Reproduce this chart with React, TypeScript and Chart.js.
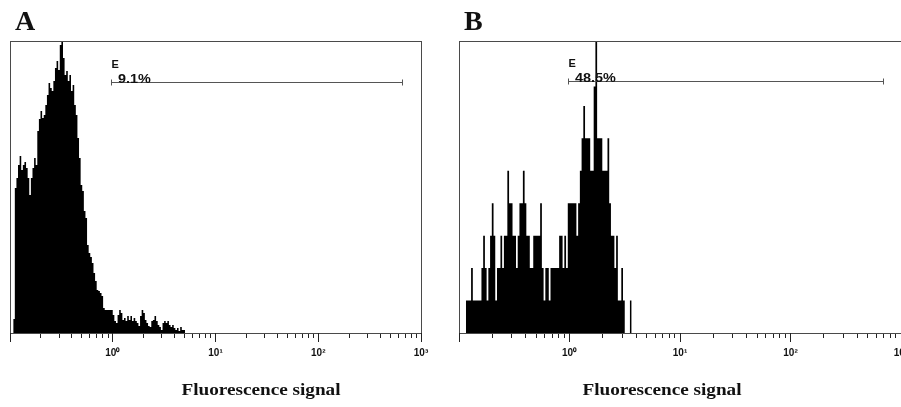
import React, { useEffect, useRef } from "react";
import { Chart, registerables } from "chart.js";

Chart.register(...registerables);

// ---- axis definition (log scale, 64 channels per decade from 10^-1) ----
const CHANNELS_PER_DECADE = 64;
const X_MIN = 0.1;
const X_MAX = 1000;
const majorTicks = [0.1, 1, 10, 100, 1000];
const majorTickLabels = ["", "10⁰", "10¹", "10²", "10³"];
const minorMultipliers = [2, 3, 4, 5, 6, 7, 8, 9];
const axisTitle = "Fluorescence signal";

// ---- panel A data ----
const startChannelA = 2;
const countsA = [
  14, 145, 155, 168, 177, 163, 168, 171, 165, 155,
  138, 155, 165, 175, 168, 202, 214, 222, 215, 218,
  228, 238, 250, 245, 242, 252, 265, 272, 263, 288,
  292, 275, 258, 262, 252, 258, 242, 248, 228, 218,
  195, 175, 148, 142, 122, 115, 88, 80, 76, 70,
  60, 52, 43, 42, 40, 37, 25, 23, 23, 23,
  23, 23, 18, 12, 10, 18, 23, 20, 13, 15,
  12, 17, 13, 17, 12, 15, 12, 10, 7, 17,
  23, 20, 13, 10, 7, 6, 12, 13, 17, 12,
  8, 6, 3, 10, 12, 10, 12, 8, 6, 8,
  5, 3, 5, 2, 6, 3, 3,
];
const yMaxA = 292;
const gateA = [0.97, 655];
const gateLevelA = 251;
const gateNameA = "E";
const gateLabelA = "9.1%";

// ---- panel B data ----
const startChannelB = 4;
const countsB = [
  1, 1, 1, 2, 1, 1, 1, 1, 1, 2,
  3, 2, 1, 2, 3, 4, 3, 1, 2, 2,
  3, 2, 3, 3, 5, 4, 4, 3, 3, 2,
  3, 4, 4, 5, 4, 3, 3, 2, 2, 3,
  3, 3, 3, 4, 2, 1, 2, 2, 1, 2,
  2, 2, 2, 2, 3, 3, 2, 3, 2, 4,
  4, 4, 4, 4, 3, 4, 5, 6, 7, 6,
  6, 6, 5, 5, 7.6, 10, 6, 6, 6, 5,
  5, 5, 6, 4, 3, 3, 2, 3, 1, 1,
  2, 1, 0, 0, 0, 1,
];
const yMaxB = 9;
const gateB = [0.98, 689];
const gateLevelB = 7.74;
const gateNameB = "E";
const gateLabelB = "48.5%";

// ---- layout / style per panel ----
const panelA = {
  letter: "A", left: 0, width: 450, padLeft: 10, padRight: 29, titleX: 261,
  startChannel: startChannelA, counts: countsA, yMax: yMaxA,
  gate: gateA, gateLevel: gateLevelA, gateName: gateNameA, gateLabel: gateLabelA,
};
const panelB = {
  letter: "B", left: 450, width: 470, padLeft: 7, padRight: 19, titleX: 212,
  startChannel: startChannelB, counts: countsB, yMax: yMaxB,
  gate: gateB, gateLevel: gateLevelB, gateName: gateNameB, gateLabel: gateLabelB,
};

const FRAME_COLOR = "#4a4a4a";
const TICK_COLOR = "#222";
const SANS = '"Liberation Sans", Arial, sans-serif';
const SERIF = '"Liberation Serif", "Times New Roman", serif';

function channelValue(ch: number) {
  return Math.pow(10, ch / CHANNELS_PER_DECADE - 1);
}

function isMajor(v: number) {
  return majorTicks.findIndex((m) => Math.abs(Math.log10(v) - Math.log10(m)) < 1e-6);
}

function allTickValues() {
  const vals: number[] = [];
  majorTicks.forEach((m, i) => {
    vals.push(m);
    if (i < majorTicks.length - 1) minorMultipliers.forEach((k) => vals.push(m * k));
  });
  return vals;
}

function align(px: number) {
  return Math.round(px - 0.5) + 0.5;
}

function stretchedText(ctx: CanvasRenderingContext2D, text: string, x: number, y: number, font: string, textAlign: CanvasTextAlign, sx: number) {
  ctx.save();
  ctx.font = font;
  ctx.textAlign = textAlign;
  ctx.textBaseline = "alphabetic";
  ctx.fillStyle = "#111";
  ctx.translate(x, y);
  ctx.scale(sx, 1);
  ctx.fillText(text, 0, 0);
  ctx.restore();
}

function Histogram({ cfg }: { cfg: any }) {
  const ref = useRef<HTMLCanvasElement>(null);
  useEffect(() => {
    const canvas = ref.current;
    if (!canvas) return;
    const points = cfg.counts.map((c: number, i: number) => ({ x: channelValue(cfg.startChannel + i), y: c }));
    points.push({ x: channelValue(cfg.startChannel + cfg.counts.length), y: 0 });
    const tickValues = allTickValues();

    const decor = {
      id: "decor",
      afterDraw(chart: any) {
        const { ctx, chartArea } = chart;
        const xs = chart.scales.x;
        const ys = chart.scales.y;
        ctx.save();
        // frame
        ctx.strokeStyle = FRAME_COLOR;
        ctx.lineWidth = 1;
        const l = align(chartArea.left), t = align(chartArea.top), r = align(chartArea.right), b = align(chartArea.bottom);
        ctx.strokeRect(l, t, r - l, b - t);
        // longer major ticks
        ctx.strokeStyle = TICK_COLOR;
        ctx.beginPath();
        majorTicks.forEach((m) => {
          const px = align(xs.getPixelForValue(m));
          ctx.moveTo(px, Math.round(chartArea.bottom));
          ctx.lineTo(px, Math.round(chartArea.bottom) + 9);
        });
        ctx.stroke();
        // gate
        const g0 = xs.getPixelForValue(cfg.gate[0]);
        const g1 = xs.getPixelForValue(cfg.gate[1]);
        const gy = align(ys.getPixelForValue(cfg.gateLevel));
        ctx.strokeStyle = "#555";
        ctx.beginPath();
        ctx.moveTo(align(g0), gy);
        ctx.lineTo(align(g1), gy);
        ctx.moveTo(align(g0), gy - 3);
        ctx.lineTo(align(g0), gy + 3);
        ctx.moveTo(align(g1), gy - 3);
        ctx.lineTo(align(g1), gy + 3);
        ctx.stroke();
        ctx.restore();
        stretchedText(ctx, cfg.gateName, g0, gy - 15, `bold 11px ${SANS}`, "left", 1);
        stretchedText(ctx, cfg.gateLabel, g0 + 6.5, gy, `bold 12px ${SANS}`, "left", 1.2);
        // panel letter
        stretchedText(ctx, cfg.letter, chartArea.left + 5, chartArea.top - 11.5, `bold 28px ${SERIF}`, "left", 1);
        // axis title
        stretchedText(ctx, axisTitle, cfg.titleX, 394.5, `bold 16px ${SERIF}`, "center", 1.2);
      },
    };

    const chart = new Chart(canvas, {
      type: "line",
      data: {
        datasets: [
          {
            data: points,
            stepped: "before",
            fill: "origin",
            backgroundColor: "#000",
            borderColor: "rgba(0,0,0,0)",
            borderWidth: 1,
            pointRadius: 0,
            tension: 0,
          },
        ],
      },
      options: {
        responsive: false,
        animation: false,
        events: [],
        layout: { padding: { left: cfg.padLeft, right: cfg.padRight, top: 41, bottom: 0 } },
        plugins: { legend: { display: false }, tooltip: { enabled: false }, title: { display: false } },
        scales: {
          x: {
            type: "logarithmic",
            min: X_MIN,
            max: X_MAX,
            afterBuildTicks: (s: any) => {
              s.ticks = tickValues.map((v) => ({ value: v }));
            },
            afterFit: (s: any) => {
              s.height = 74;
            },
            ticks: {
              autoSkip: false,
              maxRotation: 0,
              minRotation: 0,
              padding: 9,
              color: "#111",
              font: { family: SANS, size: 10, weight: "bold" },
              callback: (v: any) => {
                const i = isMajor(Number(v));
                return i >= 0 ? majorTickLabels[i] : "";
              },
            },
            grid: {
              display: true,
              drawOnChartArea: false,
              drawTicks: true,
              tickLength: 5,
              tickColor: TICK_COLOR,
              tickWidth: 1,
            },
            border: { display: false },
          },
          y: { type: "linear", min: 0, max: cfg.yMax, display: false },
        },
      } as any,
      plugins: [decor],
    });
    return () => chart.destroy();
  }, [cfg]);
  return (
    <canvas
      ref={ref}
      width={cfg.width}
      height={407}
      style={{ position: "absolute", left: cfg.left, top: 0 }}
    />
  );
}

export default function App() {
  return (
    <div
      style={{
        position: "fixed",
        left: 0,
        top: 0,
        width: 901,
        height: 407,
        overflow: "hidden",
        background: "#fff",
      }}
    >
      <Histogram cfg={panelA} />
      <Histogram cfg={panelB} />
    </div>
  );
}
